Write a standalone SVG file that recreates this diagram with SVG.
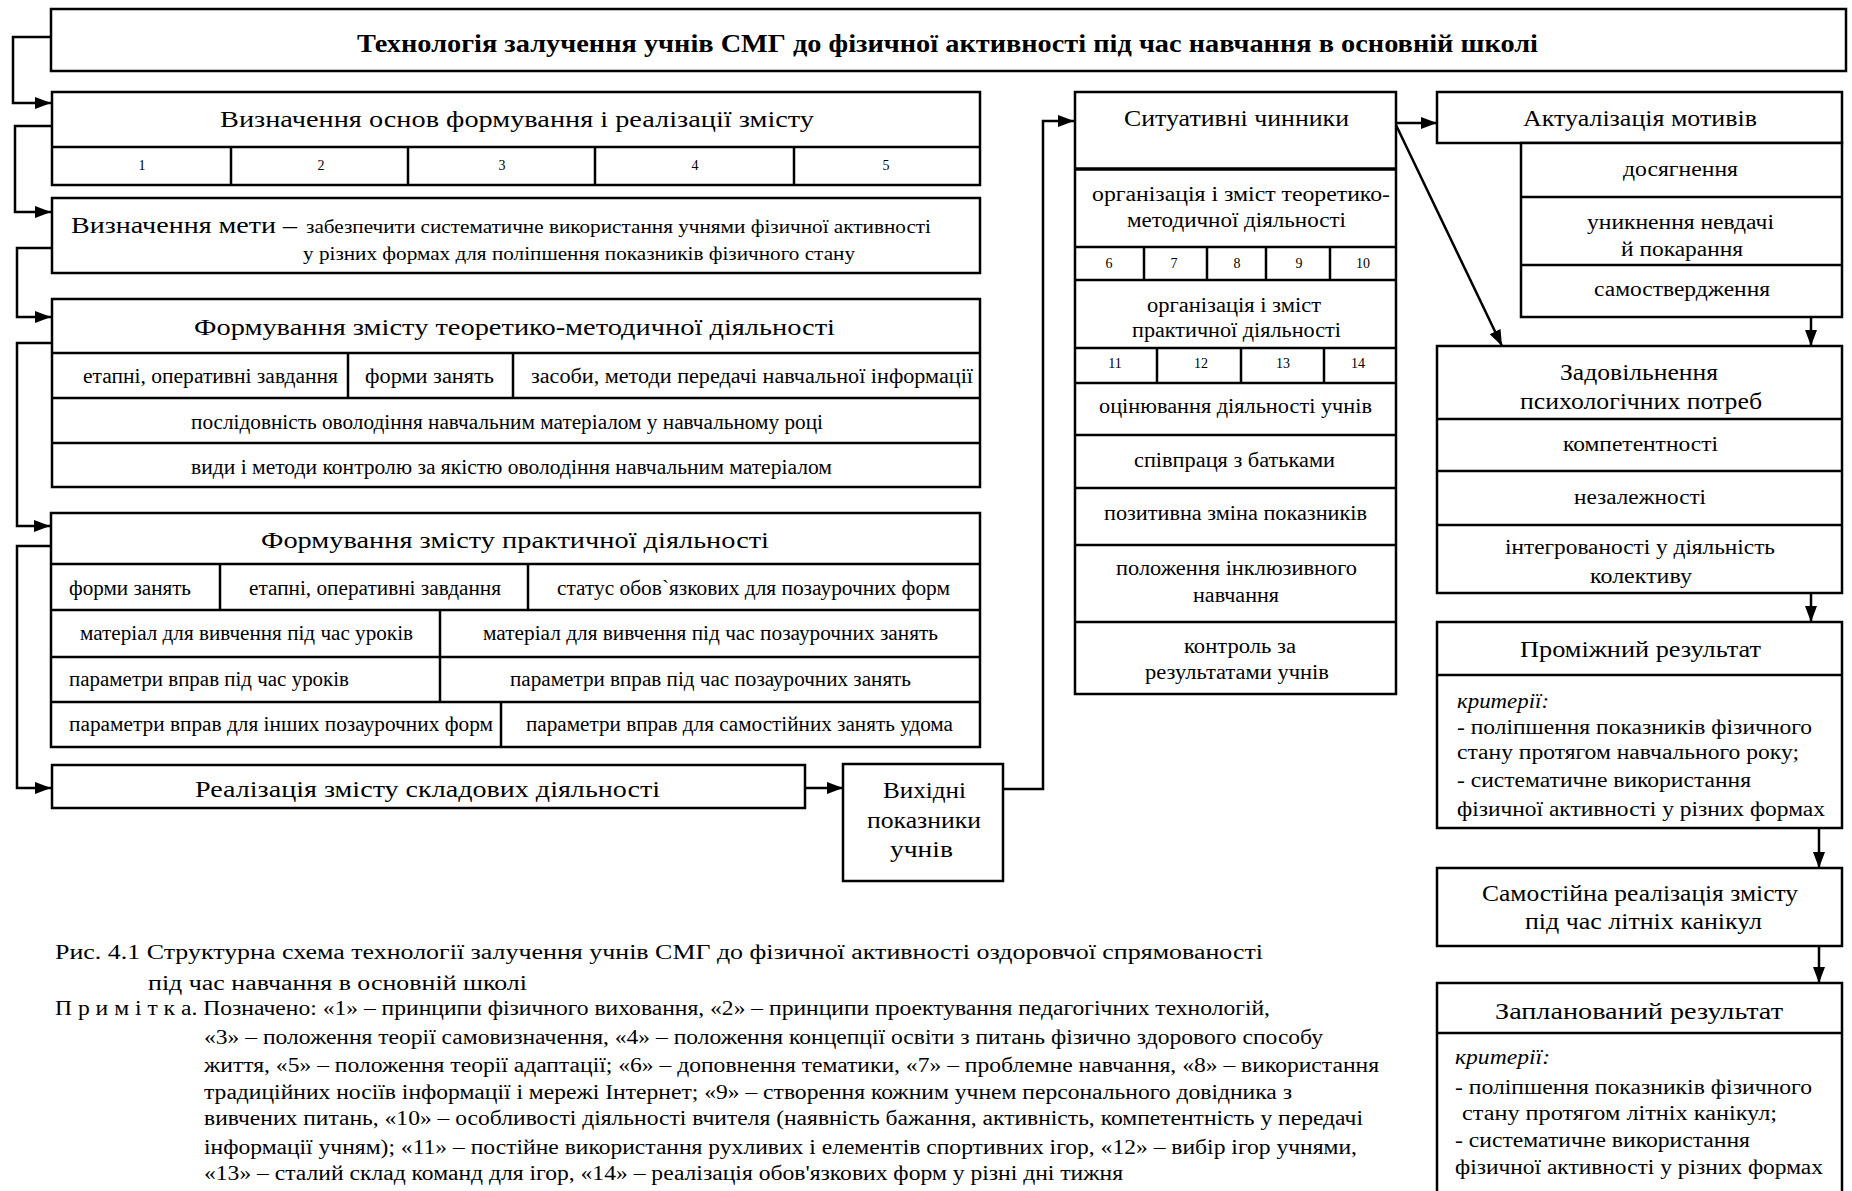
<svg xmlns="http://www.w3.org/2000/svg" width="1852" height="1191" viewBox="0 0 1852 1191">
<style>
.b{fill:#fff;stroke:#000;stroke-width:2.5}
.l{fill:none;stroke:#000;stroke-width:2.5}
.hl{fill:none;stroke:#000;stroke-width:3.5}
.c{fill:none;stroke:#000;stroke-width:2.5}
text{font-family:"Liberation Serif","Times New Roman",serif;fill:#000}
.h{font-size:24px}
.m{font-size:20px}
.s{font-size:14px;text-anchor:middle}
</style>
<defs>
<marker id="ah" markerWidth="16" markerHeight="12" refX="16" refY="6" orient="auto" markerUnits="userSpaceOnUse"><path d="M0,0 L16,6 L0,12 z" fill="#000"/></marker>
</defs>
<rect width="1852" height="1191" fill="#fff"/>

<g id="connectors">
<path class="c" d="M51,37 H13 V103 H51" marker-end="url(#ah)"/>
<path class="c" d="M52,126 H15 V212 H51" marker-end="url(#ah)"/>
<path class="c" d="M52,248 H17 V317 H51" marker-end="url(#ah)"/>
<path class="c" d="M52,343 H17 V526 H50" marker-end="url(#ah)"/>
<path class="c" d="M52,546 H17 V788 H51" marker-end="url(#ah)"/>
<path class="c" d="M805,788 H843" marker-end="url(#ah)"/>
<path class="c" d="M1003,789 H1043 V121 H1074" marker-end="url(#ah)"/>
<path class="c" d="M1396,123 H1437" marker-end="url(#ah)"/>
<path class="c" d="M1396,125 L1502,346" marker-end="url(#ah)"/>
<path class="c" d="M1811,317 V346" marker-end="url(#ah)"/>
<path class="c" d="M1811,593 V622" marker-end="url(#ah)"/>
<path class="c" d="M1819,828 V868" marker-end="url(#ah)"/>
<path class="c" d="M1819,946 V983" marker-end="url(#ah)"/>
</g>

<g id="title">
<rect class="b" x="51" y="9" width="1795" height="62"/>
<text x="357" y="52" font-size="25" font-weight="bold" textLength="1181" lengthAdjust="spacingAndGlyphs">Технологія залучення учнів СМГ до фізичної активності під час навчання в основній школі</text>
</g>

<g id="basis">
<rect class="b" x="52" y="92" width="928" height="93"/>
<path class="l" d="M52,147 H980 M231,147 V185 M408,147 V185 M595,147 V185 M794,147 V185"/>
<text class="h" x="220" y="127" textLength="594" lengthAdjust="spacingAndGlyphs">Визначення основ формування і реалізації змісту</text>
<text class="s" x="142" y="170">1</text>
<text class="s" x="321" y="170">2</text>
<text class="s" x="502" y="170">3</text>
<text class="s" x="695" y="170">4</text>
<text class="s" x="886" y="170">5</text>
</g>

<g id="goal">
<rect class="b" x="52" y="198" width="928" height="75"/>
<text class="h" x="71" y="233" textLength="226" lengthAdjust="spacingAndGlyphs">Визначення мети –</text>
<text x="306" y="233" font-size="19" textLength="625" lengthAdjust="spacingAndGlyphs">забезпечити систематичне використання учнями фізичної активності</text>
<text x="303" y="260" font-size="19" textLength="552" lengthAdjust="spacingAndGlyphs">у різних формах для поліпшення показників фізичного стану</text>
</g>

<g id="theory">
<rect class="b" x="52" y="299" width="928" height="188"/>
<path class="l" d="M52,353 H980 M52,398 H980 M52,443 H980 M348,353 V398 M513,353 V398"/>
<text class="h" x="194" y="335" textLength="641" lengthAdjust="spacingAndGlyphs">Формування змісту теоретико-методичної діяльності</text>
<text class="m" x="83" y="383" textLength="255" lengthAdjust="spacingAndGlyphs">етапні, оперативні завдання</text>
<text class="m" x="365" y="383" textLength="129" lengthAdjust="spacingAndGlyphs">форми занять</text>
<text class="m" x="531" y="383" textLength="442" lengthAdjust="spacingAndGlyphs">засоби, методи передачі навчальної інформації</text>
<text class="m" x="191" y="429" textLength="632" lengthAdjust="spacingAndGlyphs">послідовність оволодіння навчальним матеріалом у навчальному році</text>
<text class="m" x="191" y="474" textLength="641" lengthAdjust="spacingAndGlyphs">види і методи контролю за якістю оволодіння навчальним матеріалом</text>
</g>

<g id="practice">
<rect class="b" x="51" y="513" width="929" height="234"/>
<path class="l" d="M51,564 H980 M51,610 H980 M51,657 H980 M51,702 H980 M220,564 V610 M528,564 V610 M440,610 V702 M501,702 V747"/>
<text class="h" x="261" y="548" textLength="508" lengthAdjust="spacingAndGlyphs">Формування змісту практичної діяльності</text>
<text class="m" x="69" y="595" textLength="122" lengthAdjust="spacingAndGlyphs">форми занять</text>
<text class="m" x="249" y="595" textLength="252" lengthAdjust="spacingAndGlyphs">етапні, оперативні завдання</text>
<text class="m" x="557" y="595" textLength="393" lengthAdjust="spacingAndGlyphs">статус обов`язкових для позаурочних форм</text>
<text class="m" x="80" y="640" textLength="333" lengthAdjust="spacingAndGlyphs">матеріал для вивчення під час уроків</text>
<text class="m" x="483" y="640" textLength="455" lengthAdjust="spacingAndGlyphs">матеріал для вивчення під час позаурочних занять</text>
<text class="m" x="69" y="686" textLength="280" lengthAdjust="spacingAndGlyphs">параметри вправ під час уроків</text>
<text class="m" x="510" y="686" textLength="401" lengthAdjust="spacingAndGlyphs">параметри вправ під час позаурочних занять</text>
<text class="m" x="69" y="731" textLength="424" lengthAdjust="spacingAndGlyphs">параметри вправ для інших позаурочних форм</text>
<text class="m" x="526" y="731" textLength="427" lengthAdjust="spacingAndGlyphs">параметри вправ для самостійних занять удома</text>
</g>

<g id="realization">
<rect class="b" x="52" y="765" width="753" height="43"/>
<text class="h" x="195" y="797" textLength="465" lengthAdjust="spacingAndGlyphs">Реалізація змісту складових діяльності</text>
</g>

<g id="output">
<rect class="b" x="843" y="764" width="160" height="117"/>
<text class="h" x="883" y="798" textLength="83" lengthAdjust="spacingAndGlyphs">Вихідні</text>
<text class="h" x="867" y="828" textLength="114" lengthAdjust="spacingAndGlyphs">показники</text>
<text class="h" x="890" y="857" textLength="63" lengthAdjust="spacingAndGlyphs">учнів</text>
</g>

<g id="situational">
<rect class="b" x="1075" y="92" width="321" height="602"/>
<path class="hl" d="M1075,169 H1396"/>
<path class="l" d="M1075,247 H1396 M1075,280 H1396 M1075,348 H1396 M1075,383 H1396 M1075,435 H1396 M1075,488 H1396 M1075,545 H1396 M1075,622 H1396 M1144,247 V280 M1207,247 V280 M1266,247 V280 M1330,247 V280 M1157,348 V383 M1241,348 V383 M1324,348 V383"/>
<text class="h" x="1124" y="126" textLength="225" lengthAdjust="spacingAndGlyphs">Ситуативні чинники</text>
<text class="m" x="1092" y="201" textLength="298" lengthAdjust="spacingAndGlyphs">організація і зміст теоретико-</text>
<text class="m" x="1127" y="227" textLength="219" lengthAdjust="spacingAndGlyphs">методичної  діяльності</text>
<text class="s" x="1109" y="268">6</text>
<text class="s" x="1174" y="268">7</text>
<text class="s" x="1237" y="268">8</text>
<text class="s" x="1299" y="268">9</text>
<text class="s" x="1363" y="268">10</text>
<text class="m" x="1147" y="312" textLength="174" lengthAdjust="spacingAndGlyphs">організація і зміст</text>
<text class="m" x="1132" y="337" textLength="209" lengthAdjust="spacingAndGlyphs">практичної діяльності</text>
<text class="s" x="1115" y="368">11</text>
<text class="s" x="1201" y="368">12</text>
<text class="s" x="1283" y="368">13</text>
<text class="s" x="1358" y="368">14</text>
<text class="m" x="1099" y="413" textLength="273" lengthAdjust="spacingAndGlyphs">оцінювання діяльності учнів</text>
<text class="m" x="1134" y="467" textLength="201" lengthAdjust="spacingAndGlyphs">співпраця з батьками</text>
<text class="m" x="1104" y="520" textLength="263" lengthAdjust="spacingAndGlyphs">позитивна зміна показників</text>
<text class="m" x="1116" y="575" textLength="241" lengthAdjust="spacingAndGlyphs">положення інклюзивного</text>
<text class="m" x="1193" y="602" textLength="86" lengthAdjust="spacingAndGlyphs">навчання</text>
<text class="m" x="1184" y="653" textLength="112" lengthAdjust="spacingAndGlyphs">контроль за</text>
<text class="m" x="1145" y="679" textLength="184" lengthAdjust="spacingAndGlyphs">результатами учнів</text>
</g>

<g id="motives">
<rect class="b" x="1437" y="92" width="405" height="51"/>
<text class="h" x="1523" y="126" textLength="234" lengthAdjust="spacingAndGlyphs">Актуалізація мотивів</text>
</g>

<g id="motive-list">
<rect class="b" x="1521" y="143" width="321" height="174"/>
<path class="l" d="M1521,197 H1842 M1521,265 H1842"/>
<text class="m" x="1623" y="176" textLength="115" lengthAdjust="spacingAndGlyphs">досягнення</text>
<text class="m" x="1587" y="229" textLength="187" lengthAdjust="spacingAndGlyphs">уникнення невдачі</text>
<text class="m" x="1621" y="256" textLength="122" lengthAdjust="spacingAndGlyphs">й покарання</text>
<text class="m" x="1594" y="296" textLength="176" lengthAdjust="spacingAndGlyphs">самоствердження</text>
</g>

<g id="needs">
<rect class="b" x="1437" y="346" width="405" height="247"/>
<path class="l" d="M1437,419 H1842 M1437,471 H1842 M1437,525 H1842"/>
<text class="h" x="1560" y="380" textLength="158" lengthAdjust="spacingAndGlyphs">Задовільнення</text>
<text class="h" x="1520" y="409" textLength="242" lengthAdjust="spacingAndGlyphs">психологічних потреб</text>
<text class="m" x="1563" y="451" textLength="155" lengthAdjust="spacingAndGlyphs">компетентності</text>
<text class="m" x="1574" y="504" textLength="132" lengthAdjust="spacingAndGlyphs">незалежності</text>
<text class="m" x="1505" y="554" textLength="270" lengthAdjust="spacingAndGlyphs">інтегрованості у діяльність</text>
<text class="m" x="1590" y="583" textLength="102" lengthAdjust="spacingAndGlyphs">колективу</text>
</g>

<g id="intermediate">
<rect class="b" x="1437" y="622" width="405" height="206"/>
<path class="l" d="M1437,675 H1842"/>
<text class="h" x="1520" y="657" textLength="241" lengthAdjust="spacingAndGlyphs">Проміжний результат</text>
<text class="m" x="1457" y="708" font-style="italic" textLength="92" lengthAdjust="spacingAndGlyphs">критерії:</text>
<text class="m" x="1457" y="734" textLength="355" lengthAdjust="spacingAndGlyphs">- поліпшення показників фізичного</text>
<text class="m" x="1457" y="759" textLength="342" lengthAdjust="spacingAndGlyphs">стану протягом навчального року;</text>
<text class="m" x="1457" y="787" textLength="294" lengthAdjust="spacingAndGlyphs">- систематичне використання</text>
<text class="m" x="1457" y="816" textLength="368" lengthAdjust="spacingAndGlyphs">фізичної активності у різних формах</text>
</g>

<g id="summer">
<rect class="b" x="1437" y="868" width="405" height="78"/>
<text class="h" x="1482" y="901" textLength="316" lengthAdjust="spacingAndGlyphs">Самостійна реалізація змісту</text>
<text class="h" x="1525" y="929" textLength="237" lengthAdjust="spacingAndGlyphs">під час літніх канікул</text>
</g>

<g id="planned">
<path class="b" d="M1437,1200 V983 H1842 V1200"/>
<path class="l" d="M1437,1033 H1842"/>
<text class="h" x="1495" y="1019" textLength="288" lengthAdjust="spacingAndGlyphs">Запланований результат</text>
<text class="m" x="1455" y="1064" font-style="italic" textLength="95" lengthAdjust="spacingAndGlyphs">критерії:</text>
<text class="m" x="1455" y="1094" textLength="357" lengthAdjust="spacingAndGlyphs">- поліпшення показників фізичного</text>
<text class="m" x="1462" y="1120" textLength="315" lengthAdjust="spacingAndGlyphs">стану протягом  літніх канікул;</text>
<text class="m" x="1455" y="1147" textLength="295" lengthAdjust="spacingAndGlyphs">- систематичне використання</text>
<text class="m" x="1455" y="1174" textLength="368" lengthAdjust="spacingAndGlyphs">фізичної активності у різних формах</text>
</g>

<g id="caption">
<text class="m" x="55" y="959" textLength="1208" lengthAdjust="spacingAndGlyphs">Рис. 4.1 Структурна схема технології залучення учнів СМГ до фізичної активності оздоровчої спрямованості</text>
<text class="m" x="148" y="990" textLength="379" lengthAdjust="spacingAndGlyphs">під час навчання в основній школі</text>
<text class="m" x="55" y="1015" textLength="1215" lengthAdjust="spacingAndGlyphs">П р и м і т к а. Позначено: «1» – принципи фізичного виховання, «2» – принципи проектування педагогічних технологій,</text>
<text class="m" x="204" y="1044" textLength="1119" lengthAdjust="spacingAndGlyphs">«3» – положення теорії самовизначення, «4» – положення концепції освіти з питань фізично здорового способу</text>
<text class="m" x="204" y="1072" textLength="1175" lengthAdjust="spacingAndGlyphs">життя, «5» – положення теорії адаптації; «6» – доповнення тематики, «7» – проблемне навчання, «8» – використання</text>
<text class="m" x="204" y="1099" textLength="1088" lengthAdjust="spacingAndGlyphs">традиційних носіїв інформації і мережі Інтернет; «9» – створення кожним учнем персонального довідника з</text>
<text class="m" x="204" y="1125" textLength="1159" lengthAdjust="spacingAndGlyphs">вивчених питань, «10» – особливості діяльності вчителя (наявність бажання, активність, компетентність у передачі</text>
<text class="m" x="204" y="1154" textLength="1153" lengthAdjust="spacingAndGlyphs">інформації учням); «11» – постійне використання рухливих і елементів спортивних ігор, «12» – вибір ігор учнями,</text>
<text class="m" x="204" y="1180" textLength="919" lengthAdjust="spacingAndGlyphs">«13» – сталий склад команд для ігор, «14» – реалізація обов'язкових форм у різні дні тижня</text>
</g>
</svg>
